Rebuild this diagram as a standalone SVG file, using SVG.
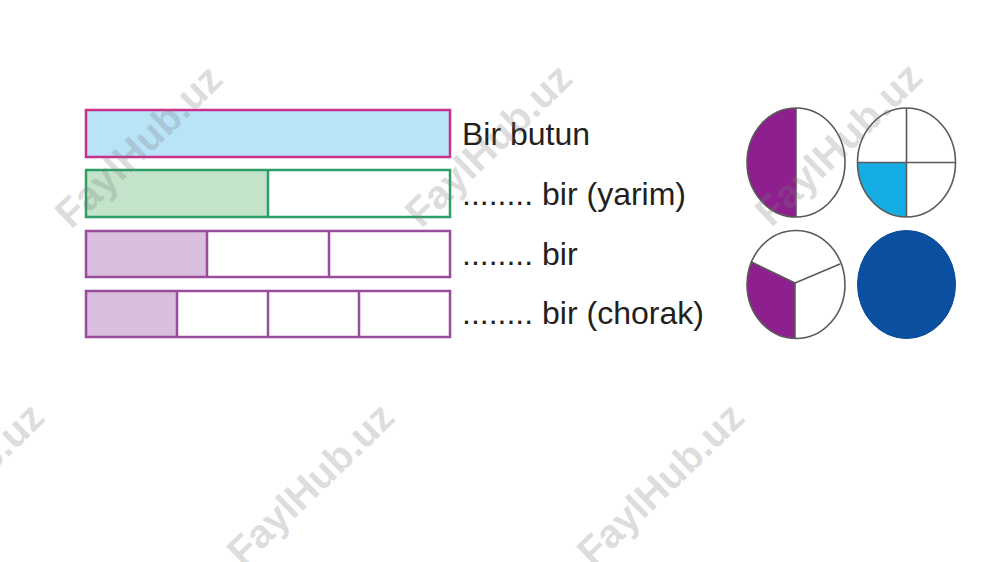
<svg xmlns="http://www.w3.org/2000/svg" width="1000" height="562" viewBox="0 0 1000 562">
<style>
.lbl{font-family:"Liberation Sans",Arial,sans-serif;font-size:32px;fill:#231f20}
.wm{font-family:"Liberation Sans",Arial,sans-serif;font-size:40px;font-weight:bold;fill:#7a7a7a;fill-opacity:0.26}
.pk{stroke:#c8308c;stroke-width:2.5}
.gr{stroke:#2e9e66;stroke-width:2.5}
.pu{stroke:#9a4c9c;stroke-width:2.5}
.cs{stroke:#5a5a5a;stroke-width:1.6}
</style>
<rect width="1000" height="562" fill="#ffffff"/>
<g id="bar-whole">
<rect x="86" y="110" width="364" height="47" fill="#b9e3f7" class="pk"/>
</g>
<g id="bar-half">
<rect x="86" y="170" width="182" height="47" fill="#c3e4c8"/>
<rect x="86" y="170" width="364" height="47" fill="none" class="gr"/>
<line x1="268" y1="170" x2="268" y2="217" class="gr"/>
</g>
<g id="bar-third">
<rect x="86" y="231" width="121" height="46" fill="#d9bfdd"/>
<rect x="86" y="231" width="364" height="46" fill="none" class="pu"/>
<line x1="207" y1="231" x2="207" y2="277" class="pu"/>
<line x1="329" y1="231" x2="329" y2="277" class="pu"/>
</g>
<g id="bar-quarter">
<rect x="86" y="291" width="91" height="46" fill="#d9bfdd"/>
<rect x="86" y="291" width="364" height="46" fill="none" class="pu"/>
<line x1="177" y1="291" x2="177" y2="337" class="pu"/>
<line x1="268" y1="291" x2="268" y2="337" class="pu"/>
<line x1="359" y1="291" x2="359" y2="337" class="pu"/>
</g>
<g id="labels">
<text class="lbl" x="462" y="145">Bir butun</text>
<text class="lbl" x="462" y="205">........ bir (yarim)</text>
<text class="lbl" x="462" y="265">........ bir</text>
<text class="lbl" x="462" y="324">........ bir (chorak)</text>
</g>
<g id="circle-half">
<ellipse cx="796" cy="162.5" rx="49" ry="54.5" fill="#ffffff"/>
<path d="M796,108 A49,54.5 0 0,0 796,217 Z" fill="#8e1f8e"/>
<ellipse cx="796" cy="162.5" rx="49" ry="54.5" fill="none" class="cs"/>
<line x1="796" y1="108" x2="796" y2="217" class="cs"/>
</g>
<g id="circle-quarter">
<ellipse cx="906.5" cy="162.5" rx="49" ry="54.5" fill="#ffffff"/>
<path d="M906.5,162.5 L857.5,162.5 A49,54.5 0 0,0 906.5,217 Z" fill="#15ade3"/>
<ellipse cx="906.5" cy="162.5" rx="49" ry="54.5" fill="none" class="cs"/>
<line x1="906.5" y1="108" x2="906.5" y2="217" class="cs"/>
<line x1="857.5" y1="162.5" x2="955.5" y2="162.5" class="cs"/>
</g>
<g id="circle-third">
<ellipse cx="796" cy="284.5" rx="49" ry="54" fill="#ffffff"/>
<path d="M795,283 L751.5,262 A49,54 0 0,0 795,338.5 Z" fill="#8e1f8e"/>
<ellipse cx="796" cy="284.5" rx="49" ry="54" fill="none" class="cs"/>
<line x1="795" y1="283" x2="751.5" y2="262" class="cs"/>
<line x1="795" y1="283" x2="840" y2="264" class="cs"/>
<line x1="795" y1="283" x2="795" y2="338.5" class="cs"/>
</g>
<g id="circle-whole">
<ellipse cx="906.5" cy="284.5" rx="49" ry="54" fill="#0b4fa0" stroke="#0a4896" stroke-width="1"/>
</g>
<g id="watermarks">
<text class="wm" text-anchor="middle" transform="translate(148,156) rotate(-44)">FaylHub.uz</text>
<text class="wm" text-anchor="middle" transform="translate(498,155) rotate(-44)">FaylHub.uz</text>
<text class="wm" text-anchor="middle" transform="translate(848,154) rotate(-44)">FaylHub.uz</text>
<text class="wm" text-anchor="middle" transform="translate(-30,494) rotate(-44)">FaylHub.uz</text>
<text class="wm" text-anchor="middle" transform="translate(320,494) rotate(-44)">FaylHub.uz</text>
<text class="wm" text-anchor="middle" transform="translate(670,494) rotate(-44)">FaylHub.uz</text>
</g>
</svg>
